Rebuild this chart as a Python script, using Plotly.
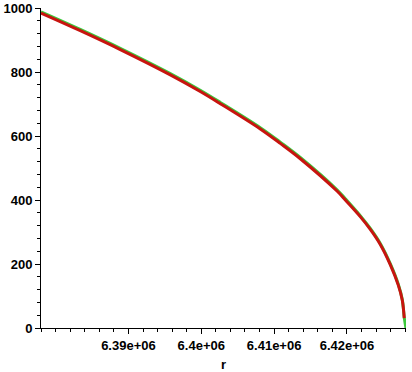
import plotly.graph_objects as go

# Values
r_red = [6378000, 6383390, 6388880, 6395750, 6399860, 6402610, 6408100, 6410840,
         6413590, 6418630, 6419770, 6421820, 6423200, 6424570, 6425940, 6427040,
         6427590, 6427860]
v_red = [984, 929, 870, 791, 739, 701, 622, 577, 529, 428, 400, 348, 308, 261,
         198, 134, 87, 31]

r_green = [6378000, 6383390, 6388880, 6395750, 6399860, 6402610, 6408100, 6410840,
           6413590, 6418630, 6419770, 6421820, 6423200, 6424570, 6425940, 6427040,
           6427590, 6427860, 6428090]
v_green = [988, 933, 874, 795, 743, 705, 626, 581, 533, 432, 404, 351, 311, 264,
           201, 137, 89, 33, 0]

x_tickvals = [6390000, 6400000, 6410000, 6420000]
x_ticktext = ["6.39e+06", "6.4e+06", "6.41e+06", "6.42e+06"]
y_tickvals = [0, 200, 400, 600, 800, 1000]

fig = go.Figure()
fig.add_trace(go.Scatter(x=r_green, y=v_green, mode="lines",
                         line=dict(color="#3cc83c", width=3, shape="spline"),
                         showlegend=False, cliponaxis=False))
fig.add_trace(go.Scatter(x=r_red, y=v_red, mode="lines",
                         line=dict(color="#c8140f", width=3, shape="spline"),
                         showlegend=False, cliponaxis=False))

tickfont = dict(family="Liberation Sans", size=13, color="black", weight="bold")

fig.update_layout(
    width=412, height=372,
    margin=dict(l=41, r=6, t=8, b=44),
    paper_bgcolor="white", plot_bgcolor="white",
    xaxis=dict(
        range=[6378000, 6428100], automargin=False,
        tickmode="array", tickvals=x_tickvals, ticktext=x_ticktext,
        ticks="outside", ticklen=5, tickwidth=1, tickcolor="black",
        showline=True, linecolor="black", linewidth=1,
        showgrid=False, zeroline=False,
        tickfont=tickfont,
        minor=dict(tickmode="linear", tick0=6380000, dtick=2000,
                   ticks="outside", ticklen=3, tickcolor="black", showgrid=False),
        title=dict(text="r", font=dict(family="Liberation Sans", size=13,
                                       color="black", weight="bold"), standoff=12),
    ),
    yaxis=dict(
        range=[0, 1000], automargin=False,
        tickmode="array", tickvals=y_tickvals,
        ticks="outside", ticklen=5, tickwidth=1, tickcolor="black",
        showline=True, linecolor="black", linewidth=1,
        showgrid=False, zeroline=False,
        tickfont=tickfont,
        minor=dict(tickmode="linear", tick0=0, dtick=40,
                   ticks="outside", ticklen=3, tickcolor="black", showgrid=False),
    ),
)

fig.write_html("out.html", config={"displayModeBar": False},
               post_script="document.body.style.margin='0';document.body.style.padding='0';")
